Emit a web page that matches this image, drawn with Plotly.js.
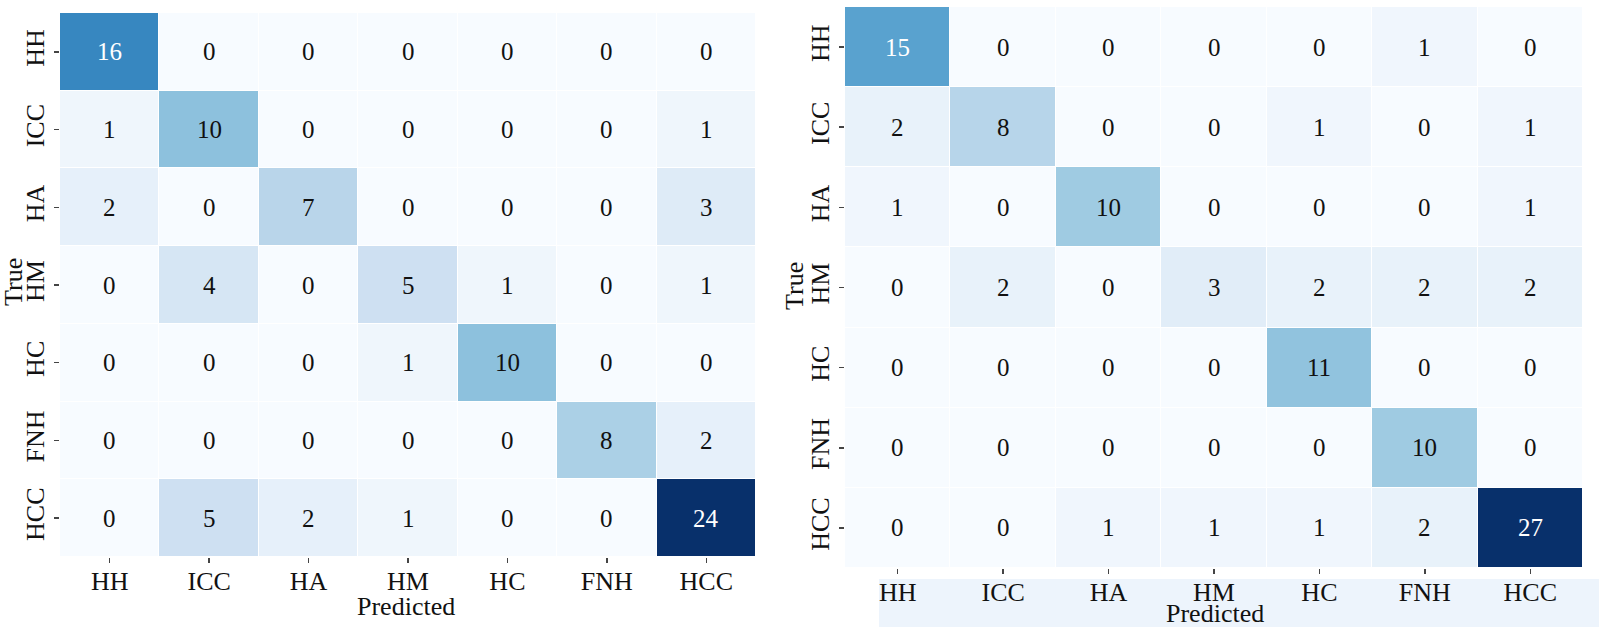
<!DOCTYPE html>
<html><head><meta charset="utf-8">
<script src="https://cdn.plot.ly/plotly-3.0.1.min.js"></script>
<style>html,body{margin:0;padding:0;background:#fff}#chart{width:1599px;height:627px}</style>
</head><body><div id="chart"></div>
<script>
const classes = ['HH','ICC','HA','HM','HC','FNH','HCC'];
const cmLeft = [
  [16, 0, 0, 0, 0, 0, 0],
  [ 1,10, 0, 0, 0, 0, 1],
  [ 2, 0, 7, 0, 0, 0, 3],
  [ 0, 4, 0, 5, 1, 0, 1],
  [ 0, 0, 0, 1,10, 0, 0],
  [ 0, 0, 0, 0, 0, 8, 2],
  [ 0, 5, 2, 1, 0, 0,24]
];
const cmRight = [
  [15, 0, 0, 0, 0, 1, 0],
  [ 2, 8, 0, 0, 1, 0, 1],
  [ 1, 0,10, 0, 0, 0, 1],
  [ 0, 2, 0, 3, 2, 2, 2],
  [ 0, 0, 0, 0,11, 0, 0],
  [ 0, 0, 0, 0, 0,10, 0],
  [ 0, 0, 1, 1, 1, 2,27]
];
const xTitle = 'Predicted';
const yTitle = 'True';

const blues = [[0,'#f7fbff'],[0.125,'#deebf7'],[0.25,'#c6dbef'],[0.375,'#9ecae1'],
  [0.5,'#6baed6'],[0.625,'#4292c6'],[0.75,'#2171b5'],[0.875,'#08519c'],[1,'#08306b']];
const FONT = 'Liberation Serif, Times New Roman, serif';

function hm(z, xa, ya) {
  return {type:'heatmap', z:z, x:classes, y:classes, xaxis:xa, yaxis:ya,
    colorscale:blues, zmin:0, zmax:Math.max(...z.flat()), showscale:false,
    xgap:1, ygap:1, hoverinfo:'skip'};
}
function cellNotes(z, xa, ya) {
  const mx = Math.max(...z.flat());
  const out = [];
  z.forEach((row,i)=>row.forEach((v,j)=>{
    out.push({xref:xa, yref:ya, x:classes[j], y:classes[i], text:String(v), showarrow:false,
      font:{family:FONT, size:25, color: v/mx > 0.5 ? '#ffffff' : '#111111'}});
  }));
  return out;
}
function xax(domain, anchor) {
  return {domain:domain, anchor:anchor, showgrid:false, zeroline:false, showline:false,
    ticks:'outside', ticklen:5, tickwidth:1.5, tickcolor:'#444', ticklabelstandoff:-4,
    tickfont:{family:FONT, size:26, color:'#111'}, fixedrange:true};
}
function yax(domain, anchor) {
  return {domain:domain, anchor:anchor, autorange:'reversed', showgrid:false, zeroline:false, showline:false,
    ticks:'outside', ticklen:5, tickwidth:1.5, tickcolor:'#444', tickangle:-90,
    tickfont:{family:FONT, size:26, color:'#111'}, fixedrange:true};
}
const W = 1599, H = 627;
const titleFont = {family:FONT, size:26, color:'#111'};
const layout = {
  width:W, height:H, margin:{l:0,r:0,t:0,b:0},
  paper_bgcolor:'#ffffff', plot_bgcolor:'#ffffff', showlegend:false,
  xaxis: xax([60/W, 756/W], 'y'),
  yaxis: yax([1-557/H, 1-13/H], 'x'),
  xaxis2: xax([845/W, 1583/W], 'y2'),
  yaxis2: yax([1-568/H, 1-7/H], 'x2'),
  shapes:[{type:'rect', xref:'paper', yref:'paper', x0:879/W, x1:1, y0:0, y1:1-579/H,
    fillcolor:'#edf4fc', line:{width:0}, layer:'below'}],
  annotations: [
    ...cellNotes(cmLeft,'x','y'),
    ...cellNotes(cmRight,'x2','y2'),
    {xref:'paper', yref:'paper', x:406/W, y:1-606/H, text:xTitle, showarrow:false, font:titleFont, xanchor:'center', yanchor:'middle'},
    {xref:'paper', yref:'paper', x:1215/W, y:1-613/H, text:xTitle, showarrow:false, font:titleFont, xanchor:'center', yanchor:'middle'},
    {xref:'paper', yref:'paper', x:13/W, y:1-282/H, text:yTitle, showarrow:false, font:titleFont, textangle:-90, xanchor:'center', yanchor:'middle'},
    {xref:'paper', yref:'paper', x:794/W, y:1-286/H, text:yTitle, showarrow:false, font:titleFont, textangle:-90, xanchor:'center', yanchor:'middle'}
  ]
};
Plotly.newPlot('chart', [hm(cmLeft,'x','y'), hm(cmRight,'x2','y2')], layout, {displayModeBar:false, staticPlot:true});
</script></body></html>
